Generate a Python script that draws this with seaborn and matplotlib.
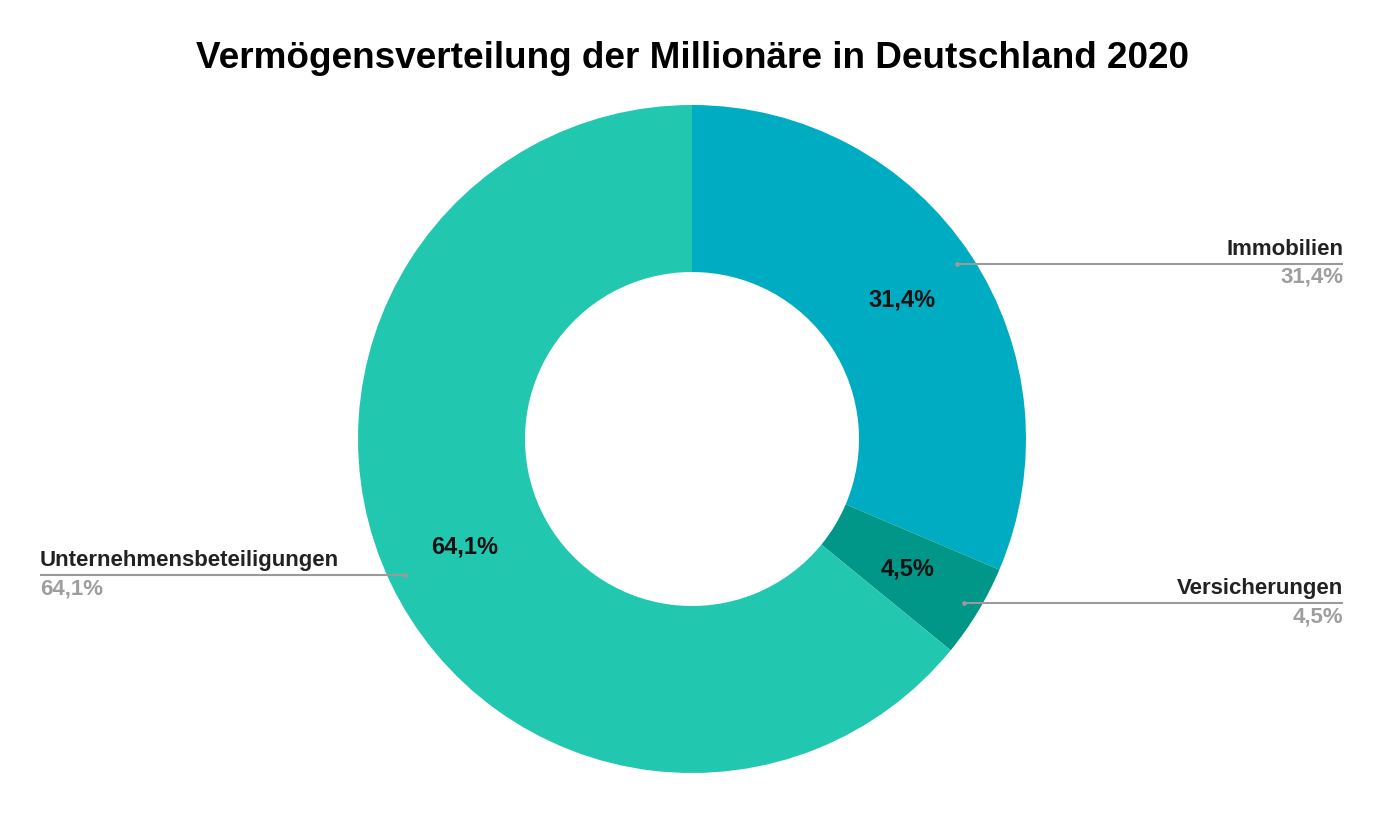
import numpy as np
import matplotlib
matplotlib.use("Agg")
import matplotlib.pyplot as plt
import seaborn as sns

categories = ["Immobilien", "Versicherungen", "Unternehmensbeteiligungen"]
values = [31.4, 4.5, 64.1]
colors = ["#00ACC1", "#009688", "#22C7B0"]
title = "Vermögensverteilung der Millionäre in Deutschland 2020"

sns.set_theme(style="white")
plt.rcParams["font.family"] = ["Liberation Sans", "DejaVu Sans"]

W, H = 1384, 814
fig = plt.figure(figsize=(W / 100, H / 100), dpi=100)
ax = fig.add_axes([0, 0, 1, 1])

cx, cy, R = 692, H - 439, 334
wedges, _ = ax.pie(values, colors=colors, startangle=90, counterclock=False,
                   center=(cx, cy), radius=R,
                   wedgeprops=dict(width=R * 0.5, linewidth=0, edgecolor="none"))
ax.set_xlim(0, W)
ax.set_ylim(0, H)
ax.set_aspect("equal")
ax.axis("off")

def fmt(v):
    return f"{v:.1f}".replace(".", ",") + "%"

for w, cat, v in zip(wedges, categories, values):
    mid = np.deg2rad((w.theta1 + w.theta2) / 2)
    # inner percent label
    ax.text(cx + 0.755 * R * np.cos(mid), cy + 0.755 * R * np.sin(mid), fmt(v),
            ha="center", va="center", fontsize=17, fontweight="bold", color="#111111")
    # leader line
    px, py = cx + 0.95 * R * np.cos(mid), cy + 0.95 * R * np.sin(mid)
    if np.cos(mid) >= 0:
        xe, ha = 1343, "right"
    else:
        xe, ha = 40, "left"
    ax.plot([px, xe], [py, py], color="#9a9a9a", lw=1.5, solid_capstyle="butt")
    ax.plot([px], [py], "o", color="#9a9a9a", ms=3.5, mec="none")
    ax.text(xe, py + 4, cat, ha=ha, va="bottom", fontsize=16, fontweight="bold", color="#222222")
    ax.text(xe, py - 3, fmt(v), ha=ha, va="top", fontsize=16, fontweight="bold", color="#9e9e9e")

fig.text(0.5, 1 - 58 / H, title, ha="center", va="center", fontsize=26.6, fontweight="bold", color="#000000")

fig.savefig("out.png", dpi=100, facecolor="white")
